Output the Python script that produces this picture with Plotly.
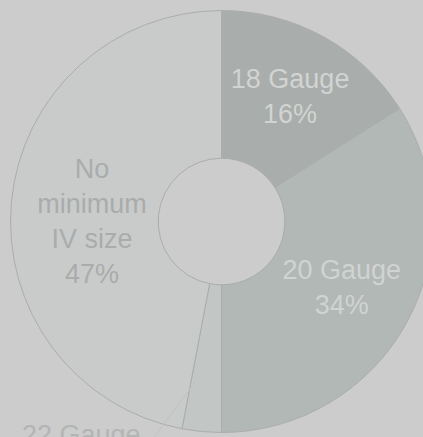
import plotly.graph_objects as go

labels = ["18 Gauge", "20 Gauge", "22 Gauge", "No minimum IV size"]
display_text = ["18 Gauge", "20 Gauge", "", "No<br>minimum<br>IV size"]
values = [16, 34, 3, 47]
colors = ["#a9adab", "#b2b8b6", "#c2c6c5", "#c9cbcb"]
text_colors = ["#d2d4d3", "#d0d3d2", "#c9cbcb", "#a9acab"]

templates = ["%{text}<br>%{percent:.0%}" if t else "" for t in display_text]

W, H = 443, 443
cx, cy, R = 221.5, 221.5, 211
FONT = "Liberation Sans, Arial, sans-serif"

fig = go.Figure(go.Pie(
    labels=labels,
    values=values,
    text=display_text,
    texttemplate=templates,
    textposition="inside",
    insidetextorientation="horizontal",
    textfont=dict(family=FONT, size=27, color=text_colors),
    sort=False,
    direction="clockwise",
    rotation=0,
    hole=0.3,
    marker=dict(colors=colors, line=dict(color="#abadac", width=1)),
    domain=dict(x=[(cx - R) / W, (cx + R) / W], y=[1 - (cy + R) / H, 1 - (cy - R) / H]),
    showlegend=False,
    hoverinfo="skip",
))

# outside label for the small 22 Gauge slice
fig.add_annotation(
    text="22 Gauge", xref="paper", yref="paper",
    x=20 / W, y=1 - 418 / H, showarrow=False,
    font=dict(family=FONT, size=27, color="#b3b5b4"),
    xanchor="left", yanchor="top",
)
# connector line
fig.add_annotation(
    text=" ", xref="paper", yref="paper",
    x=195 / W, y=1 - 382 / H, ax=-45, ay=65,
    showarrow=True, arrowhead=0, arrowwidth=1, arrowcolor="#c0c2c1",
    font=dict(size=1),
)

fig.update_layout(
    width=W, height=H,
    margin=dict(l=0, r=0, t=0, b=0),
    paper_bgcolor="#cccccc",
    plot_bgcolor="#cccccc",
)

fig.write_html(
    "out.html",
    config={"displayModeBar": False},
    post_script="document.body.style.margin='0';document.body.style.overflow='hidden';"
                "document.documentElement.style.overflow='hidden';document.body.style.background='#cccccc';",
)
